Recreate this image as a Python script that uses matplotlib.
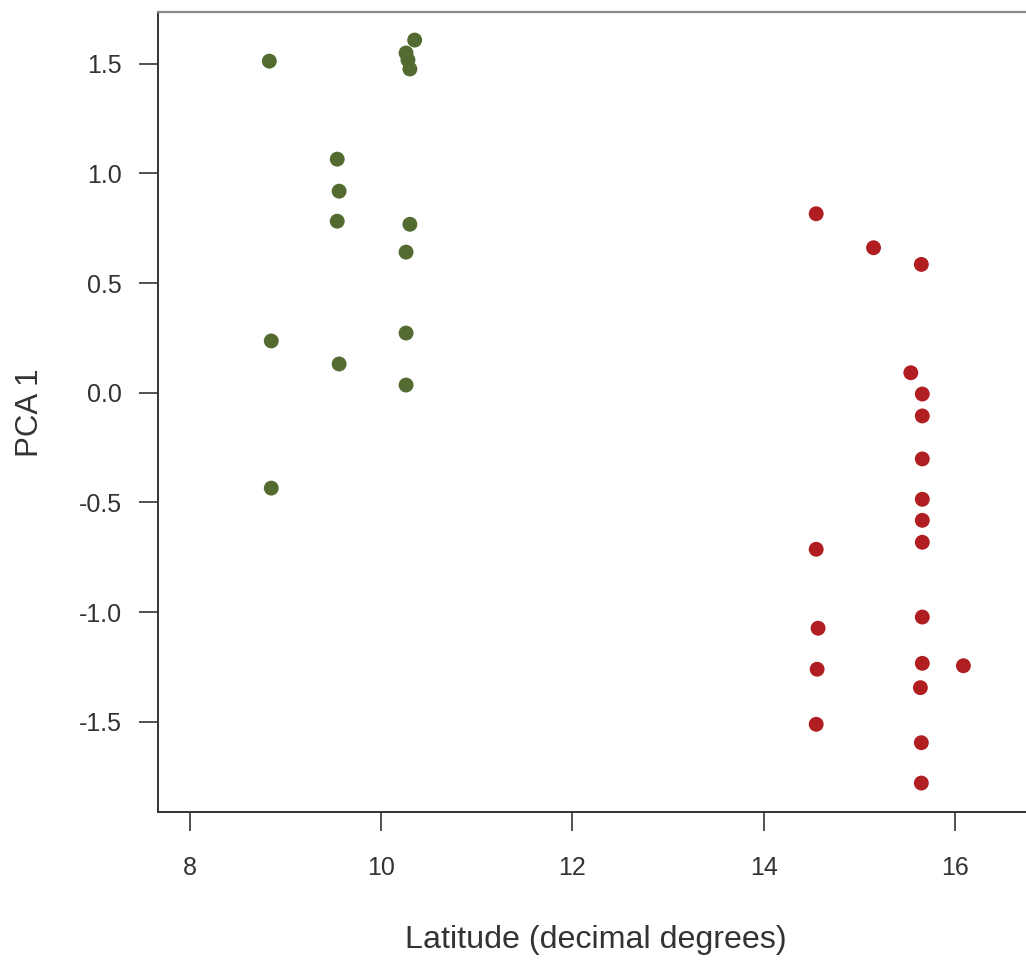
import matplotlib
matplotlib.use("Agg")
import matplotlib.pyplot as plt
from matplotlib.ticker import FormatStrFormatter

plt.rcParams['font.family'] = ['Liberation Sans', 'DejaVu Sans']
plt.rcParams['axes.unicode_minus'] = False

# southern group (green)
green_lat = [8.83, 10.35, 10.26, 10.28, 10.30, 9.54, 9.56, 9.54, 10.30, 10.26,
             8.85, 10.26, 9.56, 10.26, 8.85]
green_pca = [1.512, 1.608, 1.549, 1.517, 1.476, 1.065, 0.919, 0.782, 0.768, 0.641,
             0.236, 0.272, 0.131, 0.035, -0.435]

# northern group (red)
red_lat = [14.55, 15.15, 15.65, 15.54, 15.66, 15.66, 15.66, 15.66, 15.66, 15.66,
           14.55, 15.66, 14.57, 15.66, 16.09, 14.56, 15.64, 14.55, 15.65, 15.65]
red_pca = [0.816, 0.661, 0.585, 0.091, -0.006, -0.106, -0.302, -0.486, -0.582, -0.682,
           -0.714, -1.023, -1.074, -1.234, -1.245, -1.261, -1.345, -1.512, -1.596, -1.780]

x_ticks = [8, 10, 12, 14, 16]
y_ticks = [-1.5, -1.0, -0.5, 0.0, 0.5, 1.0, 1.5]

W, H = 1026, 965
fig = plt.figure(figsize=(W / 100, H / 100), dpi=100)
# axes box runs off the right edge of the picture
left_px, right_px, top_px, bottom_px = 158, 1060, 12, 812
ax = fig.add_axes([left_px / W, 1 - bottom_px / H,
                   (right_px - left_px) / W, (bottom_px - top_px) / H])

ax.scatter(green_lat, green_pca, s=115, color='#536b30', edgecolors='none', zorder=3)
ax.scatter(red_lat, red_pca, s=115, color='#b01e22', edgecolors='none', zorder=3)

# 95.6 px per degree, 8 at x=190 ; 219.3 px per unit, 0 at y=392.7
ax.set_xlim(8 - (190 - left_px) / 95.6, 8 + (right_px - 190) / 95.6)
ax.set_ylim(-(bottom_px - 392.7) / 219.3, (392.7 - top_px) / 219.3)

ax.set_xticks(x_ticks)
ax.set_yticks(y_ticks)
ax.yaxis.set_major_formatter(FormatStrFormatter('%.1f'))

txt = '#333333'
ax.tick_params(axis='both', direction='out', length=14, width=1.2, color='#333333',
               labelsize=18, labelcolor=txt)
ax.tick_params(axis='y', pad=12)
ax.tick_params(axis='x', pad=18)

for side in ['left', 'bottom']:
    ax.spines[side].set_color('#333333')
    ax.spines[side].set_linewidth(1.4)
ax.spines['top'].set_color('#8a8a8a')
ax.spines['top'].set_linewidth(1.6)
ax.spines['right'].set_visible(False)

ax.set_xlabel('Latitude (decimal degrees)', fontsize=23.2, color=txt)
ax.xaxis.set_label_coords((596 - left_px) / (right_px - left_px), -(940 - bottom_px) / (bottom_px - top_px))
ax.xaxis.label.set_va('center')
ax.set_ylabel('PCA 1', fontsize=22.5, color=txt)
ax.yaxis.set_label_coords(-(left_px - 30) / (right_px - left_px), (bottom_px - 413) / (bottom_px - top_px))
ax.yaxis.label.set_va('center')

fig.savefig('out.png', dpi=100)
